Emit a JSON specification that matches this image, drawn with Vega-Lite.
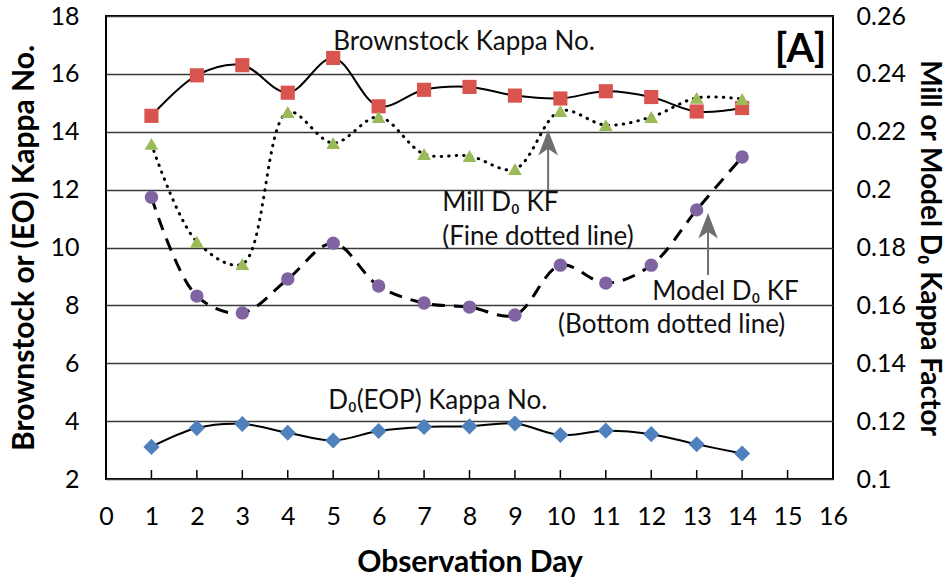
{
  "$schema": "https://vega.github.io/schema/vega-lite/v6.json",
  "width": 727,
  "height": 463,
  "autosize": {"type": "none"},
  "padding": {"left": 106, "top": 16, "right": 116, "bottom": 100},
  "background": "#ffffff",
  "config": {
    "view": {"stroke": "#000000", "strokeWidth": 2},
    "font": "Lato",
    "axis": {"labelFont": "Lato", "titleFont": "Lato", "labelColor": "#000000", "titleColor": "#000000"}
  },
  "datasets": {
    "kappa": [
      {"day": 1, "brown": 14.55, "eop": 3.11, "mill": 0.2158, "model": 0.1974},
      {"day": 2, "brown": 15.95, "eop": 3.76, "mill": 0.182, "model": 0.1632},
      {"day": 3, "brown": 16.3, "eop": 3.9, "mill": 0.1743, "model": 0.1574},
      {"day": 4, "brown": 15.35, "eop": 3.6, "mill": 0.2268, "model": 0.1691},
      {"day": 5, "brown": 16.55, "eop": 3.33, "mill": 0.2161, "model": 0.1815},
      {"day": 6, "brown": 14.88, "eop": 3.66, "mill": 0.2251, "model": 0.1667},
      {"day": 7, "brown": 15.45, "eop": 3.8, "mill": 0.2123, "model": 0.1608},
      {"day": 8, "brown": 15.55, "eop": 3.82, "mill": 0.2116, "model": 0.1594},
      {"day": 9, "brown": 15.25, "eop": 3.92, "mill": 0.2071, "model": 0.1567},
      {"day": 10, "brown": 15.15, "eop": 3.52, "mill": 0.2272, "model": 0.1739},
      {"day": 11, "brown": 15.4, "eop": 3.67, "mill": 0.2223, "model": 0.1677},
      {"day": 12, "brown": 15.2, "eop": 3.55, "mill": 0.2251, "model": 0.1739},
      {"day": 13, "brown": 14.7, "eop": 3.2, "mill": 0.2317, "model": 0.193},
      {"day": 14, "brown": 14.82, "eop": 2.88, "mill": 0.2313, "model": 0.2113}
    ],
    "labels": [
      {"x": 5.0, "y": 17.1, "text": "Brownstock Kappa No."},
      {"x": 7.4, "y": 11.54, "text": "Mill D₀ KF"},
      {"x": 7.4, "y": 10.36, "text": "(Fine dotted line)"},
      {"x": 12.02, "y": 8.46, "text": "Model D₀ KF"},
      {"x": 9.95, "y": 7.32, "text": "(Bottom dotted line)"},
      {"x": 4.89, "y": 4.68, "text": "D₀(EOP) Kappa No."}
    ],
    "arrows": [
      {"x": 9.73, "y": 11.99, "yhead": 13.54},
      {"x": 13.25, "y": 9.05, "yhead": 10.67}
    ],
    "xticks": [
      {"day": 1, "lo": 2, "hi": 2.31}, {"day": 2, "lo": 2, "hi": 2.31}, {"day": 3, "lo": 2, "hi": 2.31},
      {"day": 4, "lo": 2, "hi": 2.31}, {"day": 5, "lo": 2, "hi": 2.31}, {"day": 6, "lo": 2, "hi": 2.31},
      {"day": 7, "lo": 2, "hi": 2.31}, {"day": 8, "lo": 2, "hi": 2.31}, {"day": 9, "lo": 2, "hi": 2.31},
      {"day": 10, "lo": 2, "hi": 2.31}, {"day": 11, "lo": 2, "hi": 2.31}, {"day": 12, "lo": 2, "hi": 2.31},
      {"day": 13, "lo": 2, "hi": 2.31}, {"day": 14, "lo": 2, "hi": 2.31}, {"day": 15, "lo": 2, "hi": 2.31}
    ]
  },
  "layer": [
    {
      "layer": [
        {
          "data": {"name": "kappa"},
          "mark": {"type": "line", "interpolate": "catmull-rom", "color": "#000000", "strokeWidth": 2},
          "encoding": {
            "x": {
              "field": "day", "type": "quantitative",
              "scale": {"domain": [0, 16], "nice": false},
              "axis": {
                "values": [0, 1, 2, 3, 4, 5, 6, 7, 8, 9, 10, 11, 12, 13, 14, 15, 16],
                "domain": false, "grid": false, "ticks": false,
                "labelFlush": false, "labelOverlap": false,
                "labelFontSize": 25, "labelPadding": 37, "labelBaseline": "middle",
                "title": "Observation Day", "titleFontSize": 30, "titleFontWeight": "bold",
                "titleY": 83, "titleBaseline": "middle"
              }
            },
            "y": {
              "field": "brown", "type": "quantitative",
              "scale": {"domain": [2, 18], "nice": false, "zero": false},
              "axis": {
                "values": [2, 4, 6, 8, 10, 12, 14, 16, 18], "format": "d",
                "domain": false, "ticks": false, "grid": true, "gridColor": "#3a3a3a", "gridWidth": 1.5,
                "labelFlush": false,
                "labelFontSize": 25, "labelPadding": 27,
                "title": "Brownstock or (EO) Kappa No.", "titleFontSize": 30, "titleFontWeight": "bold",
                "titleX": -82, "titleBaseline": "middle"
              }
            }
          }
        },
        {
          "data": {"name": "xticks"},
          "mark": {"type": "rule", "color": "#000000", "strokeWidth": 1.5},
          "encoding": {
            "x": {"field": "day", "type": "quantitative"},
            "y": {"field": "lo", "type": "quantitative"},
            "y2": {"field": "hi"}
          }
        },
        {
          "data": {"name": "kappa"},
          "mark": {"type": "line", "interpolate": "catmull-rom", "color": "#000000", "strokeWidth": 2},
          "encoding": {
            "x": {"field": "day", "type": "quantitative"},
            "y": {"field": "eop", "type": "quantitative"}
          }
        },
        {
          "data": {"name": "kappa"},
          "mark": {"type": "point", "shape": "square", "filled": true, "color": "#d9534f", "size": 200, "opacity": 1},
          "encoding": {
            "x": {"field": "day", "type": "quantitative"},
            "y": {"field": "brown", "type": "quantitative"}
          }
        },
        {
          "data": {"name": "kappa"},
          "mark": {"type": "point", "shape": "diamond", "filled": true, "color": "#4f81bd", "size": 260, "opacity": 1},
          "encoding": {
            "x": {"field": "day", "type": "quantitative"},
            "y": {"field": "eop", "type": "quantitative"}
          }
        },
        {
          "data": {"name": "labels"},
          "mark": {"type": "text", "align": "left", "baseline": "middle", "fontSize": 26, "font": "Lato", "color": "#111111"},
          "encoding": {
            "x": {"field": "x", "type": "quantitative"},
            "y": {"field": "y", "type": "quantitative"},
            "text": {"field": "text"}
          }
        },
        {
          "data": {"values": [{"x": 15.85, "y": 16.83, "text": "[A]"}]},
          "mark": {"type": "text", "align": "right", "baseline": "middle", "fontSize": 40, "fontWeight": "bold", "font": "Lato", "color": "#000000"},
          "encoding": {
            "x": {"field": "x", "type": "quantitative"},
            "y": {"field": "y", "type": "quantitative"},
            "text": {"field": "text"}
          }
        },
        {
          "data": {"name": "arrows"},
          "mark": {"type": "rule", "color": "#6e6e6e", "strokeWidth": 2},
          "encoding": {
            "x": {"field": "x", "type": "quantitative"},
            "y": {"field": "y", "type": "quantitative"},
            "y2": {"field": "yhead"}
          }
        },
        {
          "data": {"name": "arrows"},
          "mark": {"type": "point", "shape": "M0,-1L0.65,0.7L0,0.25L-0.65,0.7Z", "filled": true, "color": "#6e6e6e", "size": 900, "opacity": 1},
          "encoding": {
            "x": {"field": "x", "type": "quantitative"},
            "y": {"field": "yhead", "type": "quantitative"}
          }
        }
      ]
    },
    {
      "layer": [
        {
          "data": {"name": "kappa"},
          "mark": {"type": "line", "interpolate": "catmull-rom", "color": "#000000", "strokeWidth": 3, "strokeDash": [0.5, 7], "strokeCap": "round"},
          "encoding": {
            "x": {"field": "day", "type": "quantitative"},
            "y": {
              "field": "mill", "type": "quantitative",
              "scale": {"domain": [0.1, 0.26], "nice": false, "zero": false},
              "axis": {
                "orient": "right",
                "values": [0.1, 0.12, 0.14, 0.16, 0.18, 0.2, 0.22, 0.24, 0.26], "format": "~g",
                "domain": false, "ticks": false, "grid": false, "labelFlush": false,
                "labelFontSize": 25, "labelPadding": 23,
                "title": "Mill or Model D₀ Kappa Factor", "titleFontSize": 28, "titleFontWeight": "bold",
                "titleX": 95, "titleAngle": 90, "titleBaseline": "middle"
              }
            }
          }
        },
        {
          "data": {"name": "kappa"},
          "mark": {"type": "line", "interpolate": "catmull-rom", "color": "#000000", "strokeWidth": 3, "strokeDash": [13, 9]},
          "encoding": {
            "x": {"field": "day", "type": "quantitative"},
            "y": {"field": "model", "type": "quantitative"}
          }
        },
        {
          "data": {"name": "kappa"},
          "mark": {"type": "point", "shape": "triangle-up", "filled": true, "color": "#9bbb59", "size": 190, "opacity": 1},
          "encoding": {
            "x": {"field": "day", "type": "quantitative"},
            "y": {"field": "mill", "type": "quantitative"}
          }
        },
        {
          "data": {"name": "kappa"},
          "mark": {"type": "point", "shape": "circle", "filled": true, "color": "#8064a2", "size": 180, "opacity": 1},
          "encoding": {
            "x": {"field": "day", "type": "quantitative"},
            "y": {"field": "model", "type": "quantitative"}
          }
        }
      ]
    }
  ],
  "resolve": {"scale": {"y": "independent"}}
}
